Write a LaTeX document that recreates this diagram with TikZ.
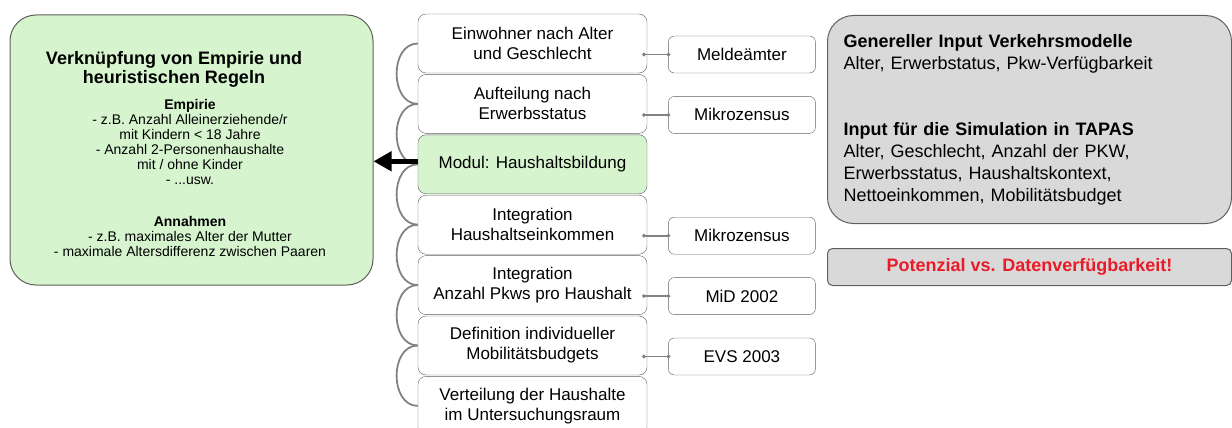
\documentclass[tikz,border=0pt]{standalone}
\usepackage{fontspec}
\setmainfont{Liberation Sans}
\usepackage{tikz}
\usetikzlibrary{shapes, arrows.meta, positioning, calc}

\definecolor{boxgreen}{RGB}{214,245,206}
\definecolor{boxgray}{RGB}{217,217,217}
\definecolor{linegray}{RGB}{130,130,130}
\definecolor{edgegray}{RGB}{95,95,95}
\definecolor{alertred}{RGB}{232,28,40}

\begin{document}
\begin{tikzpicture}[
        x=1pt, y=-1pt,
        stage/.style={draw=edgegray, fill=white, rounded corners=8pt, inner sep=0pt,
            minimum width=229pt, minimum height=59pt, align=center,
            font=\fontsize{17}{20}\selectfont},
        source/.style={draw=edgegray, fill=white, rounded corners=6pt, inner sep=0pt,
            minimum width=147pt, minimum height=37pt, font=\fontsize{17}{20}\selectfont},
        link/.style={draw=linegray, line width=1.6pt, {Circle[length=3.5pt]}-{Circle[length=3.5pt]}},
        chain/.style={draw=linegray, line width=1.8pt},
        panel/.style={draw=edgegray, line width=1pt, rounded corners=26pt}
    ]

    \useasboundingbox (0,0) rectangle (1232,428);

    % Processing chain
    \node[stage] (m1) at (532.5,43.5) {Einwohner nach Alter\\und Geschlecht};
    \node[stage, below=1pt of m1] (m2) {Aufteilung nach\\Erwerbsstatus};
    \node[stage, below=1pt of m2, fill=boxgreen] (m3) {Modul: Haushaltsbildung};
    \node[stage, below=1pt of m3] (m4) {Integration\\Haushaltseinkommen};
    \node[stage, below=1pt of m4] (m5) {Integration\\Anzahl Pkws pro Haushalt};
    \node[stage, below=1pt of m5] (m6) {Definition individueller\\Mobilitätsbudgets};
    \node[stage, below=1pt of m6] (m7) {Verteilung der Haushalte\\im Untersuchungsraum};

    % Arcs between the steps
    \foreach \a/\b in {m1/m2, m2/m3, m3/m4, m4/m5, m5/m6, m6/m7}
        \draw[chain] (\a.west) to[out=180, in=180, looseness=1.2] (\b.west);

    % Data sources
    \node[source, anchor=south west] (s1) at ([xshift=21pt]m1.south east) {Meldeämter};
    \node[source, anchor=south west] (s2) at ([xshift=21pt]m2.south east) {Mikrozensus};
    \node[source, anchor=south west] (s4) at ([xshift=21pt]m4.south east) {Mikrozensus};
    \node[source, anchor=south west] (s5) at ([xshift=21pt]m5.south east) {MiD 2002};
    \node[source, anchor=south west] (s6) at ([xshift=21pt]m6.south east) {EVS 2003};

    \foreach \s/\m in {s1/m1, s2/m2, s4/m4, s5/m5, s6/m6}
        \draw[link] ([xshift=-5pt]\s.west -| \m.east) -- ([xshift=2pt]\s.west);

    % Rules box
    \node[panel, fill=boxgreen, minimum width=363pt, minimum height=270pt] (rules) at (191.5,150) {};
    \node[font=\fontsize{18}{19}\selectfont\bfseries, align=center] (rtitle) at (174,69)
        {Verknüpfung von Empirie und\\heuristischen Regeln};
    \node[font=\fontsize{14}{15}\selectfont, align=center] (rbody) at (190,178)
        {{\bfseries Empirie}\\
         - z.B. Anzahl Alleinerziehende/r\\
         mit Kindern < 18 Jahre\\
         - Anzahl 2-Personenhaushalte\\
         mit / ohne Kinder\\
         - ...usw.\\[27pt]
         {\bfseries Annahmen}\\
         - z.B. maximales Alter der Mutter\\
         - maximale Altersdifferenz zwischen Paaren};

    \draw[line width=5pt, -{Triangle[length=18pt, width=19pt]}] ([yshift=3pt]m3.west) -- ([yshift=3pt]m3.west -| rules.east);

    % Input boxes
    \node[panel, fill=boxgray, anchor=north west, inner xsep=16pt, text width=372pt,
        minimum height=208pt, align=left, font=\fontsize{18}{22}\selectfont] (input) at (827,15)
        {{\bfseries Genereller Input Verkehrsmodelle}\\
         Alter, Erwerbstatus, Pkw-Verfügbarkeit\\[44pt]
         {\bfseries Input für die Simulation in TAPAS}\\
         Alter, Geschlecht, Anzahl der PKW,\\
         Erwerbsstatus, Haushaltskontext,\\
         Nettoeinkommen, Mobilitätsbudget};

    \node[draw=edgegray, line width=1pt, fill=boxgray, rounded corners=5pt, anchor=north west,
        minimum width=404pt, minimum height=37pt, text=alertred,
        font=\fontsize{18}{22}\selectfont\bfseries] (note) at (827,248)
        {Potenzial vs. Datenverfügbarkeit!};

\end{tikzpicture}
\end{document}
